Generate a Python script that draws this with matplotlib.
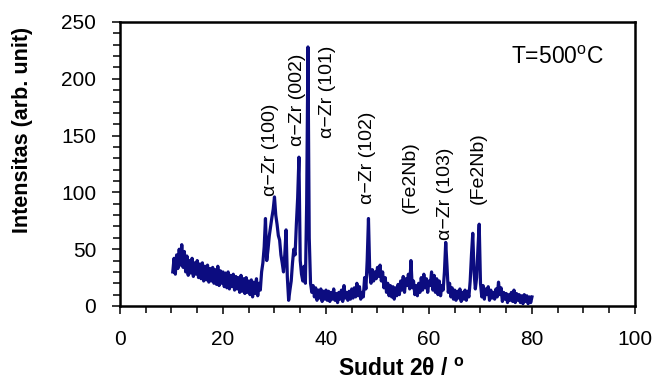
import numpy as np
import matplotlib
matplotlib.use("Agg")
import matplotlib.pyplot as plt

plt.rcParams['font.family'] = ['Liberation Sans', 'DejaVu Sans']
plt.rcParams['mathtext.fontset'] = 'custom'
plt.rcParams['mathtext.rm'] = 'Liberation Sans'
plt.rcParams['mathtext.bf'] = 'Liberation Sans:bold'

# 2theta grid of the scan (0.25 deg step) and intensities
two_theta = np.arange(10.25, 80.01, 0.25)
intensity = [
    30, 42, 28, 45, 33, 50, 36, 54, 34, 48,
    30, 44, 27, 40, 29, 42, 26, 38, 28, 40,
    25, 37, 24, 38, 22, 35, 23, 36, 21, 33,
    22, 34, 20, 32, 19, 35, 18, 31, 20, 30,
    17, 29, 16, 30, 15, 27, 17, 28, 14, 26,
    15, 25, 12, 27, 13, 24, 11, 25, 12, 22,
    10, 23, 8, 21, 11, 24, 9, 20, 14, 30,
    38, 52, 77, 40, 50, 62, 70, 78, 85, 96,
    80, 72, 62, 58, 45, 38, 30, 45, 67, 25,
    5, 14, 22, 38, 50, 45, 72, 95, 131, 40,
    28, 22, 35, 20, 90, 228, 60, 20, 12, 18,
    8, 16, 5, 14, 7, 15, 4, 13, 6, 14,
    5, 13, 4, 12, 6, 15, 5, 11, 3, 12,
    6, 14, 4, 18, 7, 12, 5, 13, 6, 15,
    7, 16, 8, 20, 9, 17, 6, 12, 8, 25,
    15, 40, 77, 30, 20, 32, 22, 30, 24, 34,
    26, 36, 22, 30, 16, 25, 12, 20, 9, 18,
    8, 17, 6, 16, 9, 19, 10, 22, 14, 26,
    12, 24, 18, 28, 15, 40, 16, 22, 10, 18,
    9, 20, 12, 25, 14, 28, 16, 24, 12, 22,
    18, 30, 14, 27, 12, 24, 10, 22, 9, 18,
    14, 30, 56, 35, 12, 20, 8, 16, 6, 14,
    5, 13, 7, 15, 4, 12, 6, 14, 5, 13,
    8, 22, 45, 64, 30, 15, 25, 50, 72, 20,
    8, 18, 6, 15, 10, 17, 5, 14, 7, 12,
    6, 15, 8, 21, 10, 16, 4, 12, 6, 11,
    3, 10, 5, 12, 4, 14, 3, 11, 5, 10,
    3, 9, 2, 10, 4, 9, 2, 8, 3, 8,
]

# peak labels: text, x position, bottom of text
peak_names = ["α−Zr (100)", "α−Zr (002)", "α−Zr (101)", "α−Zr (102)",
              "(Fe2Nb)", "α−Zr (103)", "(Fe2Nb)"]
peak_x = [29.3, 34.4, 40.2, 48.0, 56.3, 63.3, 69.5]
peak_y = [97, 141, 148, 90, 82, 58, 90]

fig = plt.figure(figsize=(6.57, 3.85), dpi=100)
ax = fig.add_axes([0.1826, 0.2052, 0.7839, 0.7377])

ax.plot(two_theta, intensity, color="#0c0c80", lw=2.3)

for name, x, y in zip(peak_names, peak_x, peak_y):
    ax.text(x, y, name, rotation=90, ha="center", va="bottom", fontsize=14)

ax.text(76.0, 219, "T=500$^{\\mathrm{o}}$C", fontsize=16.5, va="center")

ax.set_xlim(0, 100)
ax.set_ylim(0, 250)
ax.set_xticks(np.arange(0, 101, 20))
ax.set_xticks(np.arange(0, 101, 5), minor=True)
ax.set_yticks(np.arange(0, 251, 50))
ax.set_yticks(np.arange(0, 251, 10), minor=True)
ax.tick_params(which="both", direction="out", width=1.1, labelsize=15, pad=11)
ax.tick_params(which="major", length=6)
ax.tick_params(which="minor", length=5)
for s in ax.spines.values():
    s.set_linewidth(1.8)

ax.set_xlabel("Sudut 2θ / $^{\\mathbf{o}}$", fontsize=16.5, fontweight="bold")
ax.set_ylabel("Intensitas (arb. unit)", fontsize=15.5, fontweight="bold")
ax.xaxis.set_label_coords(0.546, -0.183)
ax.yaxis.set_label_coords(-0.169, 0.62)

fig.savefig("out.png", dpi=100)
